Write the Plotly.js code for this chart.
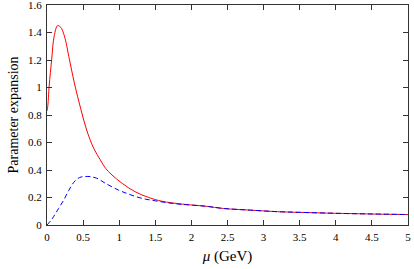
<!DOCTYPE html>
<html>
<head>
<meta charset="utf-8">
<script src="https://cdn.plot.ly/plotly-3.0.1.min.js"></script>
<style>html,body{margin:0;padding:0;background:#fff;}#chart{width:414px;height:269px;}</style>
</head>
<body>
<div id="chart"></div>
<script>
const redX = [0, 0.01, 0.03, 0.065, 0.10, 0.147, 0.19, 0.24, 0.31, 0.378, 0.47, 0.55, 0.645, 0.738, 0.81, 0.90, 1.04, 1.22, 1.41, 1.59, 1.87, 2.19, 2.45, 2.82, 3.19, 3.5, 4.0, 4.5, 5.0];
const redY = [0.83, 0.86, 1.01, 1.205, 1.376, 1.45, 1.438, 1.376, 1.205, 1.035, 0.84, 0.69, 0.56, 0.474, 0.413, 0.364, 0.303, 0.242, 0.20, 0.173, 0.152, 0.137, 0.12, 0.108, 0.097, 0.092, 0.085, 0.08, 0.076];
const blueX = [0, 0.05, 0.09, 0.16, 0.23, 0.30, 0.37, 0.45, 0.52, 0.60, 0.69, 0.81, 0.99, 1.13, 1.32, 1.50, 1.68, 1.87, 2.19, 2.45, 2.82, 3.19, 3.5, 4.0, 4.5, 5.0];
const blueY = [0, 0.03, 0.06, 0.12, 0.18, 0.25, 0.31, 0.345, 0.352, 0.352, 0.34, 0.303, 0.254, 0.225, 0.193, 0.176, 0.161, 0.150, 0.137, 0.12, 0.108, 0.097, 0.092, 0.085, 0.08, 0.076];
const xTicks = [0, 0.5, 1, 1.5, 2, 2.5, 3, 3.5, 4, 4.5, 5];
const yTicks = [0, 0.2, 0.4, 0.6, 0.8, 1, 1.2, 1.4, 1.6];

const font = {family: 'Liberation Serif, DejaVu Serif, serif', color: '#000'};
const traces = [
  {x: redX, y: redY, mode: 'lines', line: {color: '#ff0000', width: 1, shape: 'spline', smoothing: 1}, hoverinfo: 'skip'},
  {x: blueX, y: blueY, mode: 'lines', line: {color: '#0000ff', width: 1, dash: '5px,3px', shape: 'spline', smoothing: 1}, hoverinfo: 'skip'}
];
const axisCommon = {
  showgrid: false, zeroline: false, showline: true, linecolor: '#333', linewidth: 1,
  mirror: 'ticks', ticks: 'inside', ticklen: 5, tickcolor: '#333', tickwidth: 1,
  ticklabeloverflow: 'allow', ticklabelstandoff: 2,
  tickfont: Object.assign({size: 11}, font)
};
const layout = {
  width: 414, height: 269,
  margin: {l: 47, r: 6, t: 5, b: 44},
  paper_bgcolor: '#fff', plot_bgcolor: '#fff',
  showlegend: false,
  font: font,
  xaxis: Object.assign({}, axisCommon, {
    range: [0, 5], tickvals: xTicks, ticktext: xTicks.map(String),
    title: {text: '<i>μ</i> (GeV)', font: Object.assign({size: 15}, font), standoff: 8}
  }),
  yaxis: Object.assign({}, axisCommon, {
    range: [0, 1.6], tickvals: yTicks, ticktext: yTicks.map(String),
    title: {text: 'Parameter expansion', font: Object.assign({size: 14}, font), standoff: 6}
  })
};
Plotly.newPlot('chart', traces, layout, {displayModeBar: false, staticPlot: true});
</script>
</body>
</html>
